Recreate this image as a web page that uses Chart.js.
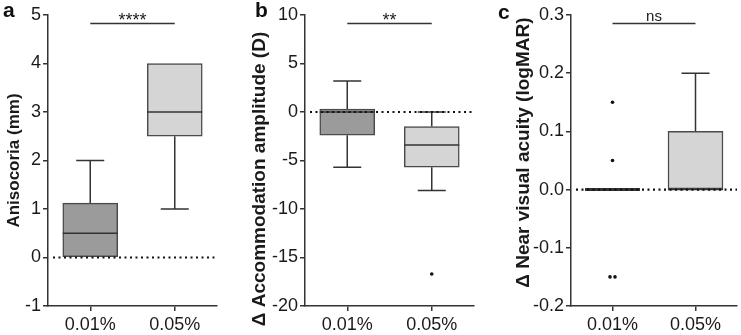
<!DOCTYPE html>
<html>
<head>
<meta charset="utf-8">
<script src="https://cdn.jsdelivr.net/npm/chart.js@4.4.1/dist/chart.umd.min.js"></script>
<style>
  html, body { margin: 0; padding: 0; background: #fff; }
  #wrap { position: relative; width: 741px; height: 335px; overflow: hidden; }
  canvas { position: absolute; top: 0; }
</style>
</head>
<body>
<div id="wrap">
  <canvas id="chartA" width="230" height="335" style="left:0px"></canvas>
  <canvas id="chartB" width="240" height="335" style="left:247px"></canvas>
  <canvas id="chartC" width="247" height="335" style="left:494px"></canvas>
</div>
<script>
const categories = ['0.01%', '0.05%'];

// a - anisocoria (mm)
const aMin = [0, 1];
const aQ1 = [0, 2.5];
const aMedian = [0.5, 3];
const aQ3 = [1.12, 4];
const aMax = [2, 4];
const aOutlierGroup = [];
const aOutlierValue = [];
const aTicks = [-1, 0, 1, 2, 3, 4, 5];

// b - accommodation amplitude (D)
const bMin = [-5.7, -8.1];
const bQ1 = [-2.4, -5.7];
const bMedian = [0, -3.4];
const bQ3 = [0.3, -1.5];
const bMax = [3.2, 0];
const bOutlierGroup = [1];
const bOutlierValue = [-16.7];
const bTicks = [-20, -15, -10, -5, 0, 5, 10];

// c - near visual acuity (logMAR)
const cMin = [0, 0];
const cQ1 = [0, 0];
const cMedian = [0, 0];
const cQ3 = [0, 0.1];
const cMax = [0, 0.2];
const cOutlierGroup = [0, 0, 0, 0];
const cOutlierValue = [0.15, 0.05, -0.15, -0.15];
const cTicks = [-0.2, -0.1, 0, 0.1, 0.2, 0.3];

const boxColors = ['#9b9b9b', '#d5d5d5'];
const lineColor = '#333';
const textColor = '#1a1a1a';

Chart.defaults.font.family = "'Liberation Sans', Arial, sans-serif";

// whiskers, medians, dotted zero line, significance bar, panel letter
const boxExtras = {
  id: 'boxExtras',
  beforeDatasetsDraw(chart, args, o) {
    const { ctx, scales: { x, y } } = chart;
    const cap = 14;
    ctx.save();
    ctx.strokeStyle = lineColor;
    ctx.lineWidth = 1.5;
    o.min.forEach((mn, i) => {
      const cx = x.getPixelForValue(i);
      const segs = [];
      if (o.max[i] > o.q3[i]) segs.push([o.q3[i], o.max[i]]);
      if (mn < o.q1[i]) segs.push([o.q1[i], mn]);
      segs.forEach(([from, to]) => {
        ctx.beginPath();
        ctx.moveTo(cx, y.getPixelForValue(from));
        ctx.lineTo(cx, y.getPixelForValue(to));
        ctx.moveTo(cx - cap, y.getPixelForValue(to));
        ctx.lineTo(cx + cap, y.getPixelForValue(to));
        ctx.stroke();
      });
    });
    ctx.restore();
  },
  afterDatasetsDraw(chart, args, o) {
    const { ctx, chartArea, scales: { x, y } } = chart;
    const half = 27.5;
    ctx.save();
    ctx.strokeStyle = lineColor;
    o.median.forEach((m, i) => {
      const cx = x.getPixelForValue(i);
      const py = y.getPixelForValue(m);
      ctx.lineWidth = o.q1[i] === o.q3[i] ? 3 : 1.5;
      ctx.beginPath();
      ctx.moveTo(cx - half, py);
      ctx.lineTo(cx + half, py);
      ctx.stroke();
    });

    // dotted line at zero
    const y0 = y.getPixelForValue(0);
    ctx.strokeStyle = '#111';
    ctx.lineWidth = 2.2;
    ctx.setLineDash([2, 3.5]);
    ctx.beginPath();
    ctx.moveTo(chartArea.left + 5, y0);
    ctx.lineTo(chartArea.right, y0);
    ctx.stroke();
    ctx.setLineDash([]);

    // significance bar
    const x1 = x.getPixelForValue(0);
    const x2 = x.getPixelForValue(1);
    const sy = chartArea.top + 8.5;
    ctx.strokeStyle = lineColor;
    ctx.lineWidth = 1.5;
    ctx.beginPath();
    ctx.moveTo(x1, sy);
    ctx.lineTo(x2, sy);
    ctx.stroke();
    ctx.fillStyle = textColor;
    ctx.textAlign = 'center';
    ctx.textBaseline = 'alphabetic';
    ctx.font = o.sigSize + "px 'Liberation Sans', Arial, sans-serif";
    ctx.fillText(o.sig, (x1 + x2) / 2, o.sigY);
    ctx.restore();
  },
  afterDraw(chart, args, o) {
    const { ctx } = chart;
    ctx.save();
    ctx.fillStyle = '#111';
    ctx.textAlign = 'left';
    ctx.textBaseline = 'alphabetic';
    ctx.font = "bold 21px 'Liberation Sans', Arial, sans-serif";
    ctx.fillText(o.letter, o.letterX, o.letterY);
    ctx.restore();
  }
};

function outlierPoints(groups, values) {
  // spread identical values side by side
  return values.map((v, k) => {
    const same = values.filter((w, j) => w === v && groups[j] === groups[k]);
    const pos = values.slice(0, k).filter((w, j) => w === v && groups[j] === groups[k]).length;
    const dx = same.length > 1 ? (pos - (same.length - 1) / 2) * 0.06 : 0;
    return { x: groups[k] + dx, y: v };
  });
}

function buildChart(id, cfg) {
  const barData = categories.map((c, i) => ({ x: i, y: [cfg.q1[i], cfg.q3[i]] }));
  return new Chart(document.getElementById(id), {
    type: 'bar',
    data: {
      datasets: [
        {
          type: 'bar',
          data: barData,
          backgroundColor: boxColors,
          borderColor: '#4a4a4a',
          borderWidth: 1.5,
          borderSkipped: false,
          barThickness: 55
        },
        {
          type: 'scatter',
          data: outlierPoints(cfg.outGroup, cfg.outValue),
          pointRadius: 1.8,
          pointBackgroundColor: '#111',
          pointBorderWidth: 0
        }
      ]
    },
    options: {
      responsive: false,
      devicePixelRatio: 1,
      animation: false,
      layout: { padding: { top: 15, right: cfg.padRight, left: 0, bottom: 0 } },
      plugins: {
        legend: { display: false },
        tooltip: { enabled: false },
        boxExtras: {
          min: cfg.min, q1: cfg.q1, median: cfg.median, q3: cfg.q3, max: cfg.max,
          sig: cfg.sig, sigSize: cfg.sigSize, sigY: cfg.sigY,
          letter: cfg.letter, letterX: cfg.letterX, letterY: cfg.letterY
        }
      },
      scales: {
        x: {
          type: 'linear',
          min: -0.5,
          max: 1.5,
          offset: false,
          afterBuildTicks: s => { s.ticks = categories.map((c, i) => ({ value: i })); },
          afterFit: s => { s.height = 29; },
          ticks: {
            callback: v => categories[v],
            font: { size: 18 },
            color: textColor,
            padding: 3,
            maxRotation: 0,
            autoSkip: false
          },
          grid: { drawOnChartArea: false, drawTicks: true, tickLength: 5, color: lineColor, lineWidth: 1.5, offset: false },
          border: { color: lineColor, width: 1.5 }
        },
        y: {
          type: 'linear',
          min: cfg.ticks[0],
          max: cfg.ticks[cfg.ticks.length - 1],
          afterBuildTicks: s => { s.ticks = cfg.ticks.map(v => ({ value: v })); },
          afterFit: s => { s.width = cfg.axisWidth; },
          ticks: {
            callback: cfg.fmt,
            font: { size: 18 },
            color: textColor,
            padding: 2
          },
          grid: { drawOnChartArea: false, drawTicks: true, tickLength: 5, color: lineColor, lineWidth: 1.5 },
          border: { color: lineColor, width: 1.5 },
          title: {
            display: true,
            text: cfg.title,
            color: textColor,
            font: { size: cfg.titleSize, weight: 'bold' },
            padding: { top: cfg.titlePad, bottom: 0 }
          }
        }
      }
    },
    plugins: [boxExtras]
  });
}

buildChart('chartA', {
  min: aMin, q1: aQ1, median: aMedian, q3: aQ3, max: aMax,
  outGroup: aOutlierGroup, outValue: aOutlierValue, ticks: aTicks,
  fmt: v => String(v),
  title: 'Anisocoria (mm)', titleSize: 17,
  sig: '****', sigSize: 18, sigY: 26,
  letter: 'a', letterX: 3, letterY: 17,
  axisWidth: 48, padRight: 13, titlePad: 4
});

// trailing/leading spaces nudge the rotated titles along the axis like the original
buildChart('chartB', {
  min: bMin, q1: bQ1, median: bMedian, q3: bQ3, max: bMax,
  outGroup: bOutlierGroup, outValue: bOutlierValue, ticks: bTicks,
  fmt: v => String(v),
  title: '\u0394 Accommodation amplitude (D)       ', titleSize: 19,
  sig: '**', sigSize: 18, sigY: 26,
  letter: 'b', letterX: 8, letterY: 17,
  axisWidth: 58, padRight: 13, titlePad: 1
});

buildChart('chartC', {
  min: cMin, q1: cQ1, median: cMedian, q3: cQ3, max: cMax,
  outGroup: cOutlierGroup, outValue: cOutlierValue, ticks: cTicks,
  fmt: v => v.toFixed(1),
  title: '   \u0394 Near visual acuity (logMAR)', titleSize: 19,
  sig: 'ns', sigSize: 15, sigY: 20.5,
  letter: 'c', letterX: 4, letterY: 19,
  axisWidth: 77, padRight: 1, titlePad: 18
});
</script>
</body>
</html>
